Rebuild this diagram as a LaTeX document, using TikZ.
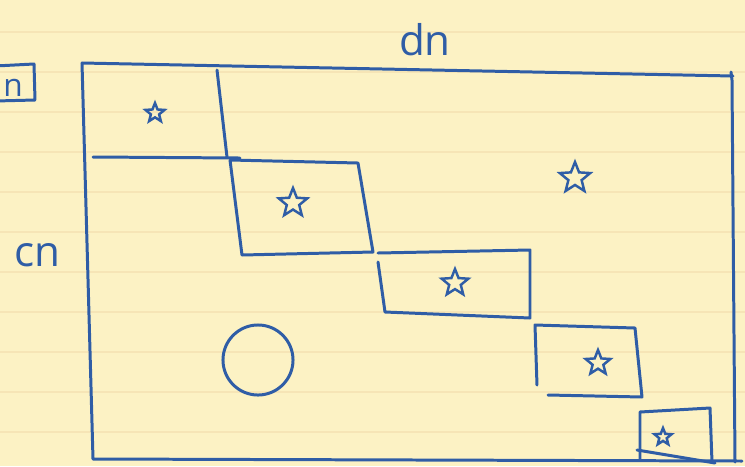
\documentclass[tikz,border=0pt]{standalone}
\usepackage{fontspec}
\setsansfont{Open Sans}
\usetikzlibrary{shapes.geometric}
\definecolor{paper}{HTML}{FCF2C4}
\definecolor{ruling}{HTML}{F6E5B6}
\definecolor{inkblue}{HTML}{2F5DA6}

\begin{document}
\begin{tikzpicture}[
  x=0.01cm, y=-0.01cm,
  ink/.style={draw=inkblue, line width=0.85pt, line join=round, line cap=round},
  starmark/.style={star, star points=5, star point ratio=2.3, draw=inkblue,
    line width=0.7pt, inner sep=0pt, minimum size=0.2cm},
  hand/.style={text=inkblue, font=\sffamily\large}
]

% paper
\fill[paper] (0,0) rectangle (745,466);
\useasboundingbox (0,0) rectangle (745,466);
\foreach \y in {32,72,...,472}
  \draw[ruling, line width=0.5pt] (0,\y) -- (745,\y);

% labels
\node (dn) [hand] at (425,40) {dn};
\node (cn) [hand] at (37,255) {cn};
\draw[ink] (-5,66) -- (34,64) -- (35,100) -- (-5,101);
\node (nlabel) [text=inkblue, font=\sffamily\small] at (13,88) {n};

% outer matrix
\draw[ink] (82,63) -- (733,76);
\draw[ink] (731,72) -- (732,80) -- (735,462);
\draw[ink] (82,63) -- (93,459) -- (742,461);

% diagonal blocks
\draw[ink] (217,70) -- (227,157);
\draw[ink] (93,157) -- (240,158);
\draw[ink] (230,160) -- (358,163) -- (373,252) -- (242,255) -- (230,160);
\draw[ink] (378,253) -- (530,250) -- (530,318) -- (385,312) -- (378,262);
\draw[ink] (537,385) -- (535,325) -- (635,328) -- (642,397) -- (548,395);
\draw[ink] (640,460) -- (640,412) -- (710,408) -- (712,462);
\draw[ink] (637,450) -- (715,463);

% entries
\node (s1) [starmark] at (155,113) {};
\node (s2) [starmark, minimum size=0.3cm] at (293,203) {};
\node (s3) [starmark, minimum size=0.28cm] at (455,283) {};
\node (s4) [starmark, minimum size=0.26cm] at (598,363) {};
\node (s5) [starmark, minimum size=0.18cm] at (663,437) {};
\node (big) [starmark, minimum size=0.32cm] at (575,178) {};
\node (zero) [circle, ink, minimum size=0.7cm] at (258,360) {};

\end{tikzpicture}
\end{document}
